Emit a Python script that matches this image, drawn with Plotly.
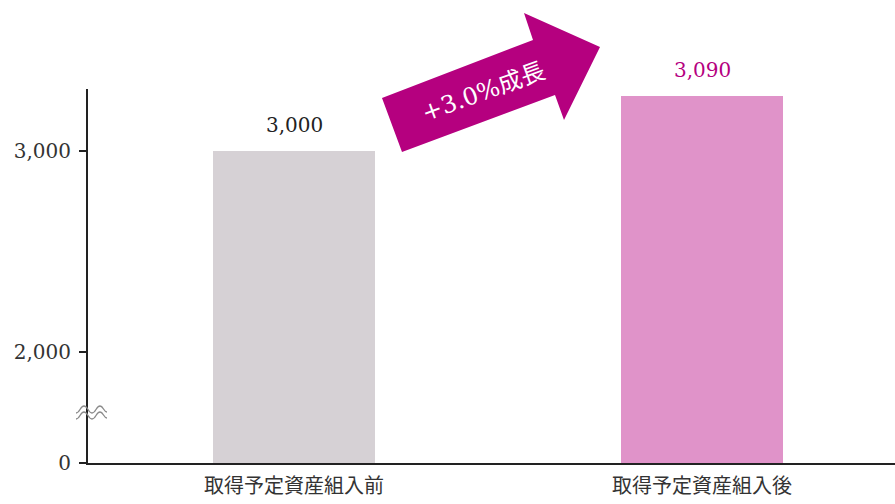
import plotly.graph_objects as go

# ---- data ----
categories = ["取得予定資産組入前", "取得予定資産組入後"]
values = [3000, 3090]                 # values shown as labels
display_heights = [3000, 3273]        # bar tops as drawn in the reference (broken, exaggerated axis)
value_labels = ["3,000", "3,090"]
bar_colors = ["#D6D1D5", "#E093C9"]
label_colors = ["#222222", "#B5007F"]
tick_vals = [1448, 2000, 3000]        # axis bottom is drawn as "0" (broken axis)
tick_text = ["0", "2,000", "3,000"]
growth_text = "+3.0%成長"

W, H = 895, 504
ML, MR, MT, MB = 88, 0, 89, 41
PW, PH = W - ML - MR, H - MT - MB
axis_bottom = tick_vals[0]
axis_top = 3309

def px(x):
    return (x - ML) / PW

def py(y):
    return (H - MB - y) / PH

serif = "DejaVu Serif, Noto Sans CJK JP, serif"
cjk = "Noto Sans CJK JP, sans-serif"

fig = go.Figure()
fig.add_trace(go.Bar(
    x=[0, 1],
    y=[h - axis_bottom for h in display_heights],
    base=axis_bottom,
    width=0.397,
    marker=dict(color=bar_colors, line=dict(width=0)),
    hoverinfo="skip",
))

annotations = []
for i, (h, lab, c) in enumerate(zip(display_heights, value_labels, label_colors)):
    annotations.append(dict(
        x=i, y=h, xref="x", yref="y", text=lab, showarrow=False,
        yanchor="middle", yshift=26.5,
        font=dict(family=serif, size=20, color=c),
    ))

# growth arrow (decorative shape)
pts = [(382, 98), (533, 40), (524, 13), (600, 47), (564, 120), (555, 95), (402, 152)]
path = "M " + " L ".join(f"{px(x):.5f},{py(y):.5f}" for x, y in pts) + " Z"
shapes = [dict(type="path", xref="paper", yref="paper", path=path,
               fillcolor="#B5007F", line=dict(width=0), layer="above")]
annotations.append(dict(
    x=px(483), y=py(92), xref="paper", yref="paper", text=growth_text,
    showarrow=False, textangle=-20, xanchor="center", yanchor="middle",
    font=dict(family=serif, size=24, color="white"),
))

# axis break marks
for off in (0, 6):
    wave = [(76, 413 + off), (84, 406 + off), (92, 413 + off), (100, 406 + off), (107, 412 + off)]
    d = f"M {px(wave[0][0]):.5f},{py(wave[0][1]):.5f}"
    for k in range(1, len(wave)):
        x0, y0 = wave[k - 1]
        x1, y1 = wave[k]
        cx = (x0 + x1) / 2
        d += f" C {px(cx):.5f},{py(y0):.5f} {px(cx):.5f},{py(y1):.5f} {px(x1):.5f},{py(y1):.5f}"
    shapes.append(dict(type="path", xref="paper", yref="paper", path=d,
                       line=dict(color="#8a8a8a", width=1.3), layer="above"))

fig.update_layout(
    width=W, height=H,
    margin=dict(l=ML, r=MR, t=MT, b=MB, pad=0),
    paper_bgcolor="white", plot_bgcolor="white",
    showlegend=False,
    bargap=0,
    shapes=shapes,
    annotations=annotations,
    xaxis=dict(
        range=[-0.505, 1.473],
        tickmode="array", tickvals=[0, 1], ticktext=categories,
        showline=True, linecolor="#222222", linewidth=2,
        ticks="", showgrid=False, zeroline=False,
        tickfont=dict(family=cjk, size=20, color="#333333"),
        ticklabelstandoff=4,
    ),
    yaxis=dict(
        range=[axis_bottom, axis_top],
        tickmode="array", tickvals=tick_vals, ticktext=tick_text,
        showline=True, linecolor="#222222", linewidth=2,
        ticks="outside", ticklen=7, tickwidth=2, tickcolor="#222222",
        showgrid=False, zeroline=False,
        tickfont=dict(family=serif, size=20, color="#333333"),
        ticklabelstandoff=4,
    ),
)

fig.write_html("out.html")
